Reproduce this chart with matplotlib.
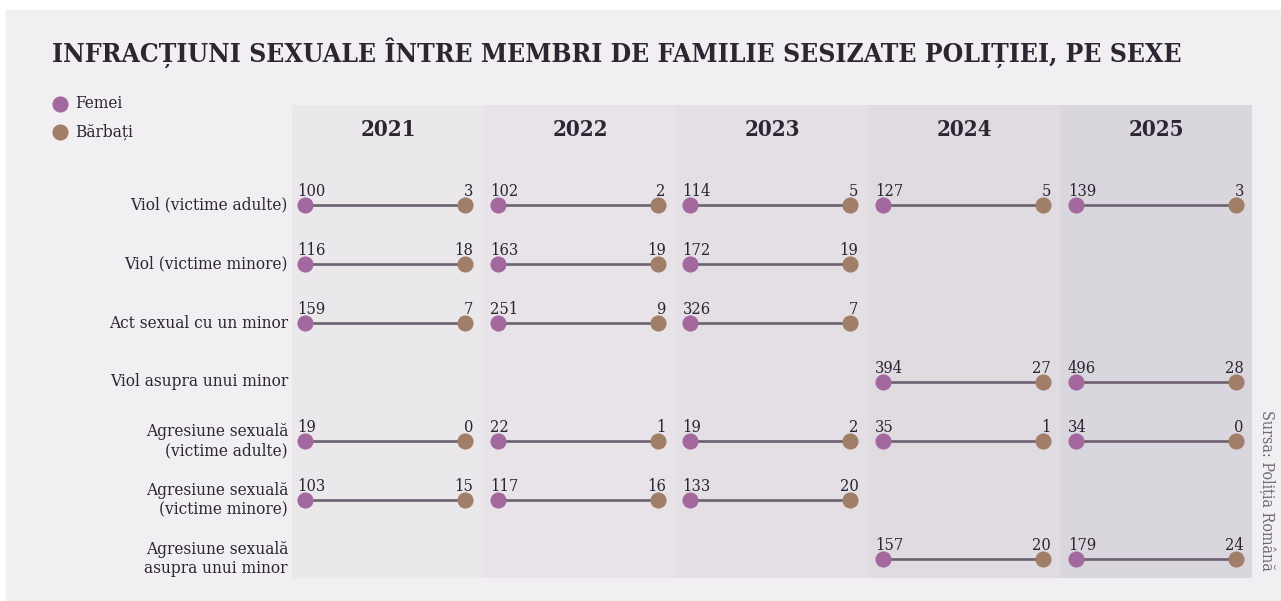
import matplotlib
matplotlib.use("Agg")
import matplotlib.pyplot as plt
from matplotlib.patches import Rectangle

# ---------------- data ----------------
years = ["2021", "2022", "2023", "2024", "2025"]
categories = [
    "Viol (victime adulte)",
    "Viol (victime minore)",
    "Act sexual cu un minor",
    "Viol asupra unui minor",
    "Agresiune sexuală\n(victime adulte)",
    "Agresiune sexuală\n(victime minore)",
    "Agresiune sexuală\nasupra unui minor",
]
femei = [
    [100, 102, 114, 127, 139],
    [116, 163, 172, None, None],
    [159, 251, 326, None, None],
    [None, None, None, 394, 496],
    [19, 22, 19, 35, 34],
    [103, 117, 133, None, None],
    [None, None, None, 157, 179],
]
barbati = [
    [3, 2, 5, 5, 3],
    [18, 19, 19, None, None],
    [7, 9, 7, None, None],
    [None, None, None, 27, 28],
    [0, 1, 2, 1, 0],
    [15, 16, 20, None, None],
    [None, None, None, 20, 24],
]
legend_labels = ["Femei", "Bărbați"]
title = "INFRACȚIUNI SEXUALE ÎNTRE MEMBRI DE FAMILIE SESIZATE POLIȚIEI, PE SEXE"
source = "Sursa: Poliția Română"

# ---------------- style ----------------
W, H = 1281, 601
BG = "#f1eff2"
PANEL_COLORS = ["#ebe8ec", "#e7e3e8", "#e3dfe5", "#dfdbe1", "#dad6dd"]
C_F = "#a3699f"
C_B = "#a07e68"
C_LINE = "#6c6170"
C_TEXT = "#2b2631"
SERIF = ["DejaVu Serif"]

fig = plt.figure(figsize=(W / 100, H / 100), dpi=100)
fig.patch.set_facecolor("white")
ax = fig.add_axes([0, 0, 1, 1])
ax.set_xlim(0, W)
ax.set_ylim(H, 0)
ax.axis("off")

ax.add_patch(Rectangle((6, 10), W - 6, H - 10, color=BG, zorder=0))

# layout
px0, pw = 292, 192
ptop, pbot = 105, 578
row_y0, row_dy = 205, 59
left_off, right_off = 13, 173
dot_s = 135

for j, yr in enumerate(years):
    x0 = px0 + j * pw
    ax.add_patch(Rectangle((x0, ptop), pw, pbot - ptop, color=PANEL_COLORS[j], zorder=1, lw=0))
    ax.text(x0 + pw / 2, 130, yr, ha="center", va="center", fontsize=16,
            fontweight="bold", family=SERIF, fontstretch="condensed", color=C_TEXT, zorder=5)

for i, cat in enumerate(categories):
    y = row_y0 + i * row_dy
    ax.text(288, y, cat, ha="right", va="center", fontsize=12.3, family=SERIF,
            fontstretch="condensed", color=C_TEXT, linespacing=1.15, zorder=5,
            multialignment="right")
    for j in range(len(years)):
        f, b = femei[i][j], barbati[i][j]
        if f is None or b is None:
            continue
        x0 = px0 + j * (pw + 0.7)
        xl, xr = x0 + left_off, x0 + right_off
        ax.plot([xl, xr], [y, y], color=C_LINE, lw=1.9, zorder=3, solid_capstyle="butt")
        ax.scatter([xl], [y], s=dot_s, color=C_F, zorder=4, linewidths=0)
        ax.scatter([xr], [y], s=dot_s, color=C_B, zorder=4, linewidths=0)
        ax.text(xl - 8, y - 9, str(f), ha="left", va="baseline", fontsize=11.8,
                family=SERIF, fontstretch="condensed", color=C_TEXT, zorder=5)
        ax.text(xr + 8, y - 9, str(b), ha="right", va="baseline", fontsize=11.8,
                family=SERIF, fontstretch="condensed", color=C_TEXT, zorder=5)

# legend
for k, (lab, col) in enumerate(zip(legend_labels, [C_F, C_B])):
    yy = 104 + k * 28
    ax.scatter([60], [yy], s=dot_s, color=col, zorder=4, linewidths=0)
    ax.text(75, yy, lab, ha="left", va="center", fontsize=12.3, family=SERIF,
            fontstretch="condensed", color=C_TEXT, zorder=5)

# title
ax.text(52, 53, title, ha="left", va="center", fontsize=19, fontweight="bold",
        family=SERIF, fontstretch="condensed", color=C_TEXT, zorder=5)

# source
ax.text(1266, 490, source, ha="center", va="center", rotation=-90, fontsize=11.5,
        family=SERIF, fontstretch="condensed", color="#6f6a73", zorder=5)

fig.savefig("out.png", dpi=100, facecolor=fig.get_facecolor())
